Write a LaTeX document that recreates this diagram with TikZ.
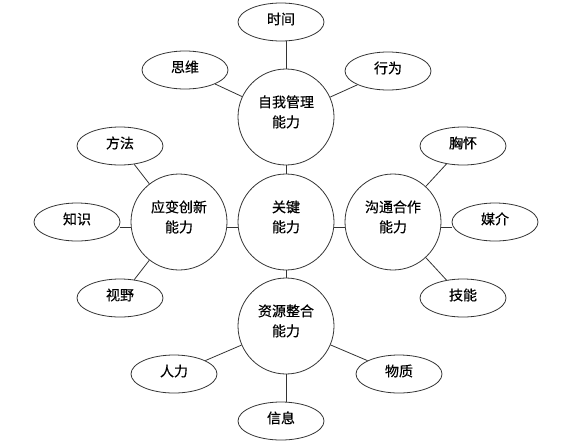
\documentclass[tikz,border=0pt]{standalone}
\usepackage{fontspec}
\setmainfont{Noto Sans CJK SC}[FakeBold=0.4]
\usetikzlibrary{shapes.geometric}
\newcommand{\twoline}[2]{\raisebox{1.5pt}[0pt][0pt]{\parbox{70pt}{\centering #1\\#2}}}
\newcommand{\oneline}[1]{\raisebox{-2.3pt}[0pt][0pt]{#1}}
\begin{document}
\begin{tikzpicture}[x=1pt,y=-1pt,
  every node/.style={font=\fontsize{14pt}{20pt}\selectfont, text=black},
  bigc/.style={circle, draw=black!80, line width=0.8pt, minimum size=96pt, inner sep=0pt, align=center},
  leaf/.style={ellipse, draw=black!80, line width=0.8pt, minimum width=86pt, minimum height=38pt, inner sep=0pt},
  link/.style={draw=black!80, line width=0.8pt}]
\useasboundingbox (0,0) rectangle (575,445);
% circles
\node[bigc] (top) at (286,117) {\twoline{自我管理}{能力}};
\node[bigc] (mid) at (286,222) {\twoline{关键}{能力}};
\node[bigc] (lft) at (179,222) {\twoline{应变创新}{能力}};
\node[bigc] (rgt) at (393,222) {\twoline{沟通合作}{能力}};
\node[bigc] (bot) at (286,326) {\twoline{资源整合}{能力}};
% leaves
\node[leaf] (shijian) at (281,22) {\oneline{时间}};
\node[leaf] (siwei) at (185,70) {\oneline{思维}};
\node[leaf] (xingwei) at (388,71) {\oneline{行为}};
\node[leaf] (fangfa) at (120,146) {\oneline{方法}};
\node[leaf] (zhishi) at (77,222) {\oneline{知识}};
\node[leaf] (shiye) at (120,298) {\oneline{视野}};
\node[leaf] (xionghuai) at (463,146) {\oneline{胸怀}};
\node[leaf] (meijie) at (495,222) {\oneline{媒介}};
\node[leaf] (jineng) at (463,298) {\oneline{技能}};
\node[leaf] (renli) at (174,374) {\oneline{人力}};
\node[leaf] (wuzhi) at (399,374) {\oneline{物质}};
\node[leaf] (xinxi) at (281,421) {\oneline{信息}};
% connectors between circles
\draw[link] (top.south) -- (mid.north);
\draw[link] (mid.south) -- (bot.north);
\draw[link] ([yshift=-5pt]lft.east) -- ([yshift=-5pt]mid.west);
\draw[link] ([yshift=-5pt]mid.east) -- ([yshift=-5pt]rgt.west);
% connectors to leaves
\draw[link] (top.north) -- (top.north |- shijian.south);
\draw[link] (top) -- (siwei);
\draw[link] (top) -- (xingwei);
\draw[link] (lft) -- (fangfa);
\draw[link] ([yshift=-5pt]lft.west) -- ([yshift=-5pt]zhishi.east);
\draw[link] (lft) -- (shiye);
\draw[link] (rgt) -- (xionghuai);
\draw[link] ([yshift=-5pt]rgt.east) -- ([yshift=-5pt]meijie.west);
\draw[link] (rgt) -- (jineng);
\draw[link] (bot) -- (renli);
\draw[link] (bot) -- (wuzhi);
\draw[link] (bot.south) -- (bot.south |- xinxi.north);
\end{tikzpicture}
\end{document}
